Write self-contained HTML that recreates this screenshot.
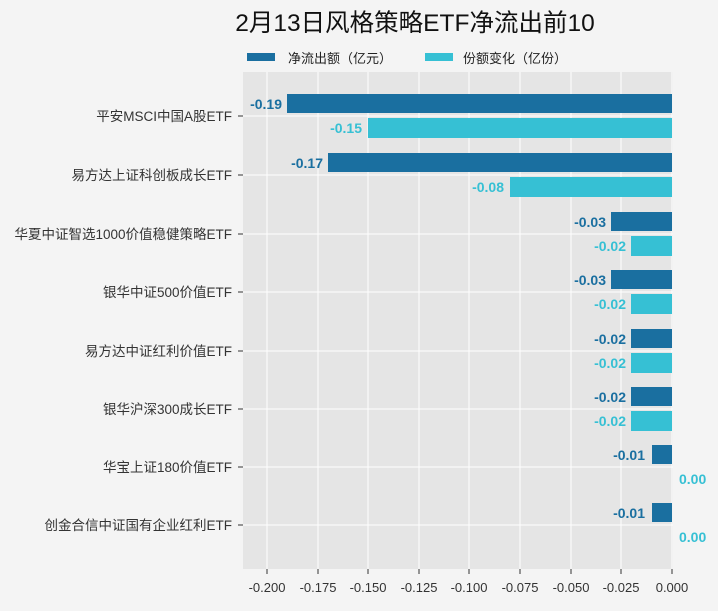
<!DOCTYPE html>
<html><head><meta charset="utf-8"><style>
body{margin:0;background:#f4f4f4;}
svg text{font-family:"Liberation Sans","Noto Sans CJK SC",sans-serif;}
</style></head><body>
<svg width="718" height="606" xmlns="http://www.w3.org/2000/svg">
<rect width="718" height="606" fill="#f4f4f4"/>
<text x="415" y="31" font-size="24.5" text-anchor="middle" fill="#111">2月13日风格策略ETF净流出前10</text>
<rect x="247" y="53" width="28" height="8" fill="#1a6fa0"/>
<text x="288" y="63" font-size="13" fill="#222">净流出额（亿元）</text>
<rect x="425" y="53" width="28" height="8" fill="#36c0d4"/>
<text x="463" y="63" font-size="13" fill="#222">份额变化（亿份）</text>
<rect x="243" y="72" width="430" height="497" fill="#e5e5e5"/>
<g stroke="#fff" stroke-width="1">
<line x1="267" y1="72" x2="267" y2="569"/><line x1="318" y1="72" x2="318" y2="569"/><line x1="368" y1="72" x2="368" y2="569"/><line x1="419" y1="72" x2="419" y2="569"/><line x1="469" y1="72" x2="469" y2="569"/><line x1="520" y1="72" x2="520" y2="569"/><line x1="571" y1="72" x2="571" y2="569"/><line x1="621" y1="72" x2="621" y2="569"/><line x1="672" y1="72" x2="672" y2="569"/>
<line x1="243" y1="116" x2="673" y2="116"/><line x1="243" y1="175" x2="673" y2="175"/><line x1="243" y1="234" x2="673" y2="234"/><line x1="243" y1="292" x2="673" y2="292"/><line x1="243" y1="351" x2="673" y2="351"/><line x1="243" y1="409" x2="673" y2="409"/><line x1="243" y1="467" x2="673" y2="467"/><line x1="243" y1="525" x2="673" y2="525"/>
</g>
<g stroke="#333"><line x1="238" y1="116" x2="243" y2="116"/><line x1="238" y1="175" x2="243" y2="175"/><line x1="238" y1="234" x2="243" y2="234"/><line x1="238" y1="292" x2="243" y2="292"/><line x1="238" y1="351" x2="243" y2="351"/><line x1="238" y1="409" x2="243" y2="409"/><line x1="238" y1="467" x2="243" y2="467"/><line x1="238" y1="525" x2="243" y2="525"/>
<line x1="267" y1="569" x2="267" y2="574"/><line x1="318" y1="569" x2="318" y2="574"/><line x1="368" y1="569" x2="368" y2="574"/><line x1="419" y1="569" x2="419" y2="574"/><line x1="469" y1="569" x2="469" y2="574"/><line x1="520" y1="569" x2="520" y2="574"/><line x1="571" y1="569" x2="571" y2="574"/><line x1="621" y1="569" x2="621" y2="574"/><line x1="672" y1="569" x2="672" y2="574"/></g>
<g font-size="13" fill="#333" text-anchor="middle">
<text x="267" y="592">-0.200</text><text x="318" y="592">-0.175</text><text x="368" y="592">-0.150</text><text x="419" y="592">-0.125</text><text x="469" y="592">-0.100</text><text x="520" y="592">-0.075</text><text x="571" y="592">-0.050</text><text x="621" y="592">-0.025</text><text x="672" y="592">0.000</text>
</g>
<g font-size="13.5" fill="#333" text-anchor="end">
<text x="232" y="121">平安MSCI中国A股ETF</text>
<text x="232" y="180">易方达上证科创板成长ETF</text>
<text x="232" y="239">华夏中证智选1000价值稳健策略ETF</text>
<text x="232" y="297">银华中证500价值ETF</text>
<text x="232" y="356">易方达中证红利价值ETF</text>
<text x="232" y="414">银华沪深300成长ETF</text>
<text x="232" y="472">华宝上证180价值ETF</text>
<text x="232" y="530">创金合信中证国有企业红利ETF</text>
</g>
<g fill="#1a6fa0">
<rect x="287" y="94" width="385" height="19"/>
<rect x="328" y="153" width="344" height="19"/>
<rect x="611" y="212" width="61" height="19"/>
<rect x="611" y="270" width="61" height="19"/>
<rect x="631" y="329" width="41" height="19"/>
<rect x="631" y="387" width="41" height="19"/>
<rect x="652" y="445" width="20" height="19"/>
<rect x="652" y="503" width="20" height="19"/>
</g>
<g fill="#36c0d4">
<rect x="368" y="118" width="304" height="20"/>
<rect x="510" y="177" width="162" height="20"/>
<rect x="631" y="236" width="41" height="20"/>
<rect x="631" y="294" width="41" height="20"/>
<rect x="631" y="353" width="41" height="20"/>
<rect x="631" y="411" width="41" height="20"/>
</g>
<g font-size="14" font-weight="bold" fill="#1a6fa0" text-anchor="end">
<text x="282" y="109">-0.19</text><text x="323" y="168">-0.17</text><text x="606" y="227">-0.03</text><text x="606" y="285">-0.03</text><text x="626" y="344">-0.02</text><text x="626" y="402">-0.02</text><text x="645" y="460">-0.01</text><text x="645" y="518">-0.01</text>
</g>
<g font-size="14" font-weight="bold" fill="#36c0d4" text-anchor="end">
<text x="362" y="133">-0.15</text><text x="504" y="192">-0.08</text><text x="626" y="251">-0.02</text><text x="626" y="309">-0.02</text><text x="626" y="368">-0.02</text><text x="626" y="426">-0.02</text>
</g>
<g font-size="14" font-weight="bold" fill="#36c0d4">
<text x="679" y="484">0.00</text><text x="679" y="542">0.00</text>
</g>
</svg>
</body></html>
